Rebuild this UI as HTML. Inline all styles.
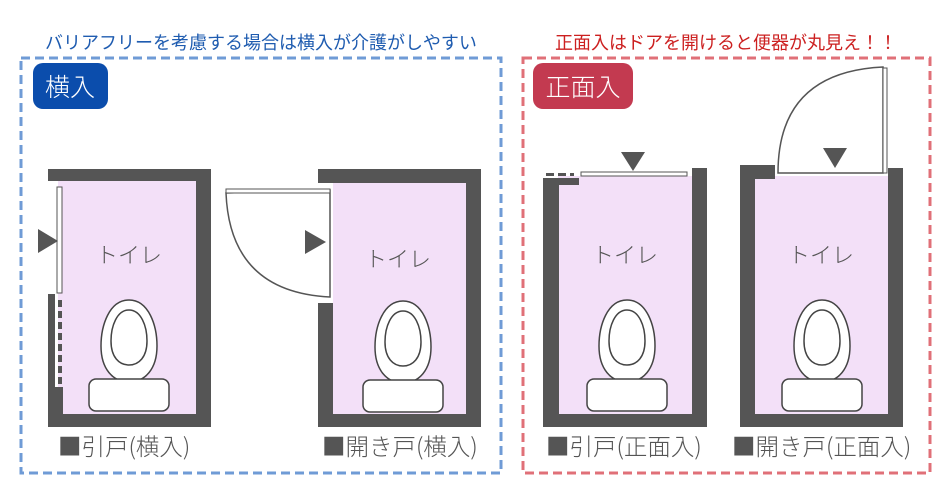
<!DOCTYPE html>
<html><head><meta charset="utf-8"><style>
html,body{margin:0;padding:0;background:#fff;}
svg{display:block;}
text{font-family:"Liberation Sans","Noto Sans CJK JP",sans-serif;}
.j{font-family:"Noto Sans CJK JP",sans-serif;font-weight:300;}
</style></head><body>
<svg width="949" height="491" viewBox="0 0 949 491" xmlns="http://www.w3.org/2000/svg">
<defs>
<g id="toilet">
  <path d="M0,-41 C20,-41 28,-15 28,5 C28,28 16,41 0,41 C-16,41 -28,28 -28,5 C-28,-15 -20,-41 0,-41 Z" fill="#fff" stroke="#444" stroke-width="1.5"/>
  <path d="M0,-31 C12,-31 18,-15 18,0 C18,16 10,24 0,24 C-10,24 -18,16 -18,0 C-18,-15 -12,-31 0,-31 Z" fill="#fff" stroke="#444" stroke-width="1.5"/>
  <rect x="-40" y="38" width="80" height="32" rx="7" fill="#fff" stroke="#444" stroke-width="1.5"/>
</g>
</defs>
<rect x="21" y="58" width="480" height="415" fill="none" stroke="#6f9bd6" stroke-width="3" stroke-dasharray="9,5"/>
<rect x="523" y="58" width="407" height="415" fill="none" stroke="#e07078" stroke-width="3" stroke-dasharray="9,5"/>
<text x="45" y="49" font-size="18" fill="#1f5cb0">バリアフリーを考慮する場合は横入が介護がしやすい</text>
<text x="555" y="49" font-size="18" fill="#cc2020">正面入はドアを開けると便器が丸見え！！</text>
<rect x="33" y="63" width="75" height="46" rx="10" fill="#0b4dac"/>
<text x="70" y="96" font-size="25" fill="#fff" text-anchor="middle" class="j">横入</text>
<rect x="533" y="63" width="100" height="46" rx="10" fill="#c33a50"/>
<text x="583" y="96" font-size="25" fill="#fff" text-anchor="middle" class="j">正面入</text>

<!-- D1 -->
<rect x="58" y="181" width="138" height="233" fill="#f3e0f8"/>
<rect x="48" y="169" width="163" height="12" fill="#555"/>
<rect x="196" y="169" width="15" height="258" fill="#555"/>
<rect x="48" y="414" width="163" height="13" fill="#555"/>
<rect x="48" y="294" width="7" height="133" fill="#555"/>
<rect x="48" y="387" width="15" height="40" fill="#555"/>
<rect x="57" y="187" width="5" height="106" fill="#fff" stroke="#555" stroke-width="1"/>
<line x1="60" y1="300" x2="60" y2="385" stroke="#555" stroke-width="4" stroke-dasharray="7,4"/>
<polygon points="38,229 38,253 58,241" fill="#555"/>
<text x="129" y="263" font-size="22" fill="#555" text-anchor="middle" class="j">トイレ</text>
<use href="#toilet" x="129" y="341"/>

<!-- D2 -->
<rect x="333" y="183" width="133" height="231" fill="#f3e0f8"/>
<rect x="318" y="169" width="163" height="14" fill="#555"/>
<rect x="466" y="169" width="15" height="258" fill="#555"/>
<rect x="318" y="414" width="163" height="13" fill="#555"/>
<rect x="318" y="303" width="15" height="124" fill="#555"/>
<path d="M226,193 Q230,292 330,297 L330,190 Z" fill="#fff" stroke="#555" stroke-width="1.5"/>
<rect x="226" y="189" width="104" height="4" fill="#fff" stroke="#555" stroke-width="1"/>
<polygon points="305,230 305,254 326,242" fill="#555"/>
<text x="398" y="267" font-size="22" fill="#555" text-anchor="middle" class="j">トイレ</text>
<use href="#toilet" x="403" y="342"/>

<!-- D3 -->
<rect x="558" y="176" width="134" height="238" fill="#f3e0f8"/>
<rect x="543" y="180" width="16" height="247" fill="#555"/>
<rect x="543" y="178" width="36" height="7" fill="#555"/>
<line x1="546" y1="174.5" x2="574" y2="174.5" stroke="#555" stroke-width="3" stroke-dasharray="8,4"/>
<rect x="581" y="172" width="106" height="4" fill="#fff" stroke="#555" stroke-width="1"/>
<polygon points="621,152 645,152 633,171" fill="#555"/>
<rect x="692" y="168" width="15" height="259" fill="#555"/>
<rect x="543" y="414" width="164" height="13" fill="#555"/>
<text x="625" y="263" font-size="22" fill="#555" text-anchor="middle" class="j">トイレ</text>
<use href="#toilet" x="627" y="341"/>

<!-- D4 -->
<rect x="755" y="176" width="133" height="238" fill="#f3e0f8"/>
<rect x="740" y="165" width="15" height="262" fill="#555"/>
<rect x="740" y="165" width="35" height="14" fill="#555"/>
<path d="M778,173 Q778,72 883,67 L883,173 Z" fill="#fff" stroke="#555" stroke-width="1.5"/>
<rect x="883" y="68" width="4" height="105" fill="#fff" stroke="#555" stroke-width="1"/>
<polygon points="823,148 847,148 835,168" fill="#555"/>
<rect x="888" y="168" width="15" height="259" fill="#555"/>
<rect x="740" y="414" width="163" height="13" fill="#555"/>
<text x="821" y="263" font-size="22" fill="#555" text-anchor="middle" class="j">トイレ</text>
<use href="#toilet" x="822" y="341"/>

<!-- labels -->
<text x="58" y="455" font-size="23.5" fill="#555" class="j">■引戸(横入)</text>
<text x="322" y="455" font-size="23.5" fill="#555" class="j">■開き戸(横入)</text>
<text x="546" y="455" font-size="23.5" fill="#555" class="j">■引戸(正面入)</text>
<text x="732" y="455" font-size="23.5" fill="#555" class="j">■開き戸(正面入)</text>
</svg>
</body></html>
